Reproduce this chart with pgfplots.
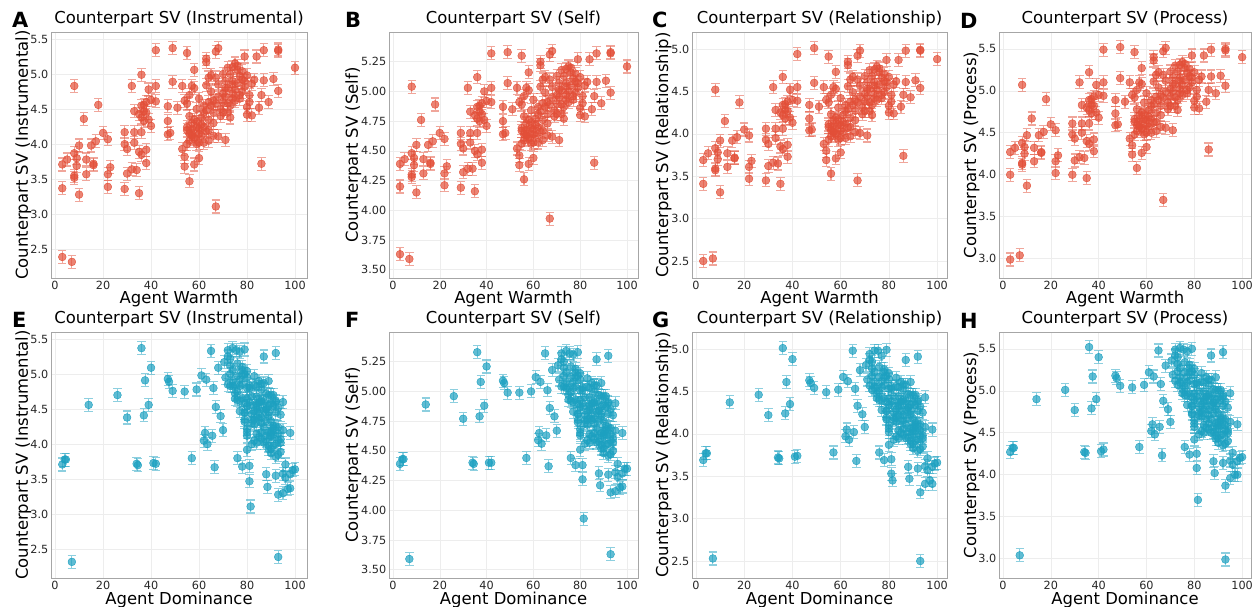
\documentclass[border=0pt]{standalone}
\usepackage{fontspec}
\setmainfont{DejaVu Sans}
\usepackage{pgfplots}
\usepackage{pgfplotstable}
\pgfplotsset{compat=1.18}
\definecolor{cred}{RGB}{226,78,55}
\definecolor{cblu}{RGB}{28,160,192}

\pgfdeclareplotmark{ebar}{%
  \pgfpathmoveto{\pgfpoint{0bp}{-6.5bp}}\pgfpathlineto{\pgfpoint{0bp}{6.5bp}}%
  \pgfpathmoveto{\pgfpoint{-4.2bp}{6.5bp}}\pgfpathlineto{\pgfpoint{4.2bp}{6.5bp}}%
  \pgfpathmoveto{\pgfpoint{-4.2bp}{-6.5bp}}\pgfpathlineto{\pgfpoint{4.2bp}{-6.5bp}}%
  \pgfusepathqstroke}

\pgfplotstableread{
w d i s r p
3 93 2.39 3.63 2.50 2.99
7 7 2.32 3.59 2.53 3.04
3 98 3.37 4.20 3.41 4.00
3 3 3.71 4.39 3.69 4.27
5 4.5 3.78 4.43 3.77 4.32
8 73 4.83 5.04 4.52 5.07
8 90 3.87 4.48 3.83 4.38
8 96 3.52 4.28 3.57 4.12
8 92 3.55 4.30 3.59 4.14
9 81 3.69 4.38 3.70 4.25
9 57 3.80 4.44 3.78 4.33
10 89 3.98 4.55 3.92 4.47
10 93 3.28 4.15 3.31 3.87
12 85 4.36 4.76 4.15 4.67
13 98 3.57 4.31 3.61 4.16
13 4 3.78 4.43 3.77 4.32
15 91 3.98 4.55 3.92 4.47
16 34 3.72 4.40 3.72 4.27
16 34.5 3.70 4.39 3.71 4.26
17 88 4.04 4.58 3.96 4.51
18 14 4.56 4.89 4.37 4.90
20 98 4.16 4.65 4.05 4.60
22 94 4.07 4.60 3.98 4.53
22 88 3.57 4.31 3.61 4.16
22 88.5 3.39 4.21 3.47 4.02
23 66.5 3.67 4.37 3.68 4.23
29 86 4.17 4.65 4.06 4.61
29 97 3.36 4.19 3.45 4.00
29 92 4.00 4.56 3.93 4.48
30 95 3.58 4.32 3.62 4.17
30 90 3.93 4.52 3.88 4.43
32 74 4.83 5.03 4.55 5.10
32 100 3.64 4.35 3.66 4.21
33 84 4.02 4.57 3.95 4.50
33 80 4.17 4.65 4.06 4.61
33 83 4.47 4.83 4.28 4.83
34 99 3.63 4.35 3.65 4.20
35 94 3.89 4.50 3.85 4.40
35 95 3.30 4.16 3.41 3.96
35 82 4.43 4.80 4.25 4.80
36 78 4.99 5.12 4.67 5.22
36 89 4.17 4.65 4.06 4.61
36 86 4.38 4.77 4.22 4.77
37 39 4.56 4.88 4.35 4.90
37 77 4.47 4.83 4.28 4.83
37 90 4.33 4.75 4.18 4.73
38 80 3.92 4.51 3.87 4.42
38 85 4.60 4.90 4.38 4.93
38 41 3.73 4.40 3.73 4.28
39 59 4.78 5.00 4.52 5.07
39 79 4.35 4.76 4.19 4.74
40 91 4.26 4.71 4.13 4.68
40 76 4.63 4.92 4.40 4.95
42 72 5.34 5.32 4.94 5.49
42 81 4.83 5.03 4.55 5.10
42 87 4.61 4.91 4.39 4.94
36 93 3.85 4.47 3.82 4.37
47 88 4.33 4.75 4.18 4.73
47 80 4.54 4.87 4.34 4.89
47 91 4.14 4.64 4.04 4.59
48 62.5 4.16 4.65 4.05 4.60
49 36 5.37 5.33 5.01 5.52
49 47.5 4.89 5.07 4.60 5.15
51 84 4.52 4.85 4.32 4.87
53 75 4.83 5.03 4.55 5.10
53 89 3.93 4.52 3.88 4.43
54 92 3.82 4.46 3.80 4.35
54 78 3.68 4.38 3.69 4.24
54 86 4.62 4.91 4.40 4.95
55 92 5.30 5.30 4.91 5.46
55 87 4.24 4.69 4.11 4.66
55 79 4.58 4.89 4.37 4.92
55 70 4.20 4.67 4.08 4.63
56 26 4.70 4.96 4.46 5.01
56 83 4.05 4.59 3.97 4.52
56 81 3.47 4.26 3.53 4.08
57 82 4.30 4.73 4.16 4.71
57 65.5 4.12 4.63 4.02 4.57
57 77 4.83 5.03 4.55 5.10
58 74 5.06 5.16 4.73 5.27
58 96 3.71 4.39 3.71 4.26
58 80 4.80 5.01 4.53 5.08
58 85 4.10 4.62 4.01 4.56
59 88 4.50 4.84 4.31 4.86
59 93 4.24 4.69 4.11 4.66
59 63.5 4.00 4.56 3.93 4.48
60 76 3.80 4.44 3.78 4.33
60 90 4.15 4.64 4.04 4.59
60 78 4.65 4.93 4.42 4.97
61 84 4.38 4.77 4.22 4.77
62 81 4.55 4.87 4.34 4.89
62 92 4.25 4.70 4.12 4.67
63 73 5.22 5.25 4.85 5.40
63 70.5 5.17 5.22 4.81 5.36
63 83 4.84 5.04 4.56 5.11
63 87 4.48 4.83 4.29 4.84
64 95 4.20 4.67 4.08 4.63
64 62 4.05 4.59 3.97 4.52
65 61 4.98 5.12 4.67 5.22
65 89 4.55 4.87 4.34 4.89
66 86 4.30 4.73 4.16 4.71
66 77 4.62 4.91 4.40 4.95
67 77 5.32 5.31 4.92 5.47
67 80 4.95 5.10 4.64 5.19
67 81.5 3.11 3.93 3.45 3.70
68 74 5.37 5.34 4.98 5.51
68 90 4.11 4.62 4.01 4.56
68 82 4.68 4.95 4.44 4.99
69 69 4.40 4.79 4.23 4.78
70 86 4.60 4.90 4.38 4.93
70 79 5.00 5.13 4.68 5.23
71 93 4.06 4.59 3.98 4.53
71 84 4.68 4.95 4.44 4.99
72 68 5.09 5.18 4.75 5.30
72 66 4.80 5.01 4.53 5.08
73 30 4.38 4.77 4.22 4.77
73 91 4.55 4.87 4.34 4.89
74 85 4.90 5.07 4.61 5.16
74 88 4.72 4.97 4.47 5.02
75 76 5.15 5.21 4.79 5.34
75 92 4.62 4.91 4.40 4.95
76 78 5.06 5.16 4.73 5.27
76 87 4.87 5.05 4.58 5.13
77 83 4.97 5.11 4.66 5.21
78 54 4.75 4.99 4.49 5.04
78 80 5.04 5.15 4.71 5.26
79 89 4.90 5.07 4.61 5.16
80 67 4.53 4.86 4.33 4.88
80 94 4.42 4.80 4.25 4.80
81 90 4.70 4.96 4.46 5.01
82 37 4.41 4.79 4.24 4.79
82 86 4.86 5.05 4.58 5.13
83 63 4.92 5.08 4.62 5.17
84 87 5.25 5.27 4.87 5.42
85 93 4.52 4.85 4.32 4.87
86 91 4.70 4.96 4.46 5.01
86 42 3.72 4.40 3.74 4.30
87 75.5 5.34 5.32 4.98 5.49
87 37.5 4.91 5.08 4.61 5.17
89 95 4.60 4.90 4.43 4.97
91 47 4.93 5.09 4.63 5.18
93 79 5.35 5.33 4.99 5.50
93 65 5.33 5.32 4.98 5.48
93 49 4.76 4.99 4.54 5.06
100 40 5.09 5.21 4.88 5.40
61 83 4.28 4.72 4.14 4.69
70 79 4.45 4.81 4.27 4.82
74 72 4.85 5.04 4.57 5.12
77 75 4.65 4.93 4.42 4.97
64 81 4.60 4.90 4.38 4.93
56 84 4.15 4.64 4.04 4.59
57 91 4.22 4.68 4.10 4.65
58 86 4.08 4.60 3.99 4.54
59 79 4.32 4.74 4.17 4.72
60 94 4.02 4.57 3.95 4.50
61 88 4.12 4.63 4.02 4.57
62 85 4.45 4.81 4.27 4.82
63 90 4.18 4.66 4.07 4.62
64 82 4.35 4.76 4.19 4.74
65 76 4.75 4.99 4.49 5.04
66 92 4.45 4.81 4.27 4.82
67 84 4.58 4.89 4.37 4.92
68 78 4.85 5.04 4.57 5.12
69 88 4.50 4.84 4.31 4.86
70 75 4.72 4.97 4.47 5.02
71 81 4.80 5.01 4.53 5.08
72 90 4.58 4.89 4.37 4.92
73 73 5.00 5.13 4.68 5.23
74 80 4.65 4.93 4.42 4.97
75 86 4.78 5.00 4.52 5.07
76 73 5.12 5.20 4.77 5.32
77 89 4.70 4.96 4.46 5.01
78 77 4.92 5.08 4.62 5.17
79 84 4.82 5.03 4.55 5.10
80 76 4.98 5.12 4.67 5.22
72 79 4.45 4.81 4.27 4.82
60 80 4.22 4.68 4.10 4.65
56 89 4.40 4.79 4.23 4.78
55 82 4.00 4.56 3.93 4.48
62 87 4.02 4.57 3.95 4.50
57 93 4.15 4.64 4.04 4.59
74 78 5.10 5.19 4.76 5.31
71 74 4.90 5.07 4.61 5.16
66 80 4.12 4.63 4.02 4.57
38 89 4.45 4.81 4.27 4.82
36 84 4.55 4.87 4.34 4.89
64 71 4.95 5.10 4.64 5.19
79 72 5.25 5.27 4.87 5.42
81 92 4.60 4.90 4.38 4.93
58 83 4.35 4.76 4.19 4.74
}\agents

\newcommand{\lblfont}{\fontsize{16.5}{19}\selectfont}
\pgfplotsset{
  base/.style={scale only axis, anchor=south west, height=246bp,
    grid=major, grid style={black!7, line width=0.5bp},
    axis line style={black!35, line width=0.8bp},
    major tick length=0pt, tick style={draw=none},
    /pgf/number format/assume math mode=true,
    ticklabel style={font=\fontsize{11.3}{13}\selectfont, text=black!85},
    xticklabel style={inner sep=1bp, yshift=-1.5bp},
    yticklabel style={inner sep=1bp, xshift=-1.5bp},
    xtick={0,20,40,60,80,100},
    title style={at={(0.5,1)}, anchor=base, yshift=3bp, inner sep=0pt, font=\lblfont},
    xlabel style={at={(axis description cs:0.5,0)}, anchor=base, yshift=-26bp, inner sep=0pt, font=\lblfont},
    ylabel style={anchor=base, inner sep=0pt, font=\lblfont},
  },
  pI/.style={base, width=256bp, xmin=-1.7, xmax=105, ymin=2.09, ymax=5.6,
    ytick={2.5,3.0,3.5,4.0,4.5,5.0,5.5},
    yticklabel style={/pgf/number format/.cd, fixed, fixed zerofill, precision=1},
    ylabel style={at={(axis description cs:-0.09,0.5)}},
    title={Counterpart SV (Instrumental)}, ylabel={Counterpart SV (Instrumental)}},
  pS/.style={base, width=249bp, xmin=-1.7, xmax=104.7, ymin=3.43, ymax=5.5,
    ytick={3.5,3.75,4.0,4.25,4.5,4.75,5.0,5.25},
    yticklabel style={/pgf/number format/.cd, fixed, fixed zerofill, precision=2},
    ylabel style={at={(axis description cs:-0.125,0.5)}},
    title={Counterpart SV (Self)}, ylabel={Counterpart SV (Self)}},
  pR/.style={base, width=255bp, xmin=-1.66, xmax=104.1, ymin=2.3, ymax=5.2,
    ytick={2.5,3.0,3.5,4.0,4.5,5.0},
    yticklabel style={/pgf/number format/.cd, fixed, fixed zerofill, precision=1},
    ylabel style={at={(axis description cs:-0.094,0.5)}},
    title={Counterpart SV (Relationship)}, ylabel={Counterpart SV (Relationship)}},
  pP/.style={base, width=252bp, xmin=-1.67, xmax=103.7, ymin=2.77, ymax=5.7,
    ytick={3.0,3.5,4.0,4.5,5.0,5.5},
    yticklabel style={/pgf/number format/.cd, fixed, fixed zerofill, precision=1},
    ylabel style={at={(axis description cs:-0.091,0.5)}},
    title={Counterpart SV (Process)}, ylabel={Counterpart SV (Process)}},
  bars/.style={only marks, mark=ebar, color=#1, draw opacity=0.5,
    mark options={line width=1.1bp}},
  pts/.style={only marks, mark=*, mark size=3.9bp, color=#1,
    fill opacity=0.7, mark options={draw=none, fill=#1}},
}

\begin{document}
\begin{tikzpicture}
\path[use as bounding box] (0,0) rectangle (1254bp,607bp);
% top row
\begin{axis}[pI, at={(51bp,329bp)}, xlabel={Agent Warmth}]
\addplot[bars=cred] table[x=w, y=i] {\agents};
\addplot[pts=cred] table[x=w, y=i] {\agents};
\end{axis}
\begin{axis}[pS, at={(389bp,329bp)}, xlabel={Agent Warmth}]
\addplot[bars=cred] table[x=w, y=s] {\agents};
\addplot[pts=cred] table[x=w, y=s] {\agents};
\end{axis}
\begin{axis}[pR, at={(692bp,329bp)}, xlabel={Agent Warmth}]
\addplot[bars=cred] table[x=w, y=r] {\agents};
\addplot[pts=cred] table[x=w, y=r] {\agents};
\end{axis}
\begin{axis}[pP, at={(999bp,329bp)}, xlabel={Agent Warmth}]
\addplot[bars=cred] table[x=w, y=p] {\agents};
\addplot[pts=cred] table[x=w, y=p] {\agents};
\end{axis}
% bottom row
\begin{axis}[pI, at={(51bp,29bp)}, xlabel={Agent Dominance}]
\addplot[bars=cblu] table[x=d, y=i] {\agents};
\addplot[pts=cblu] table[x=d, y=i] {\agents};
\end{axis}
\begin{axis}[pS, at={(389bp,29bp)}, xlabel={Agent Dominance}]
\addplot[bars=cblu] table[x=d, y=s] {\agents};
\addplot[pts=cblu] table[x=d, y=s] {\agents};
\end{axis}
\begin{axis}[pR, at={(692bp,29bp)}, xlabel={Agent Dominance}]
\addplot[bars=cblu] table[x=d, y=r] {\agents};
\addplot[pts=cblu] table[x=d, y=r] {\agents};
\end{axis}
\begin{axis}[pP, at={(999bp,29bp)}, xlabel={Agent Dominance}]
\addplot[bars=cblu] table[x=d, y=p] {\agents};
\addplot[pts=cblu] table[x=d, y=p] {\agents};
\end{axis}
% panel letters
\foreach \L/\X/\Y in {A/12/579, B/345/579, C/652/579, D/960/578, E/12/279, F/345/279, G/652/279, H/960/278}
  \node[anchor=base west, inner sep=0pt, font=\fontsize{21}{24}\selectfont\bfseries] at (\X bp,\Y bp) {\L};
\end{tikzpicture}
\end{document}
